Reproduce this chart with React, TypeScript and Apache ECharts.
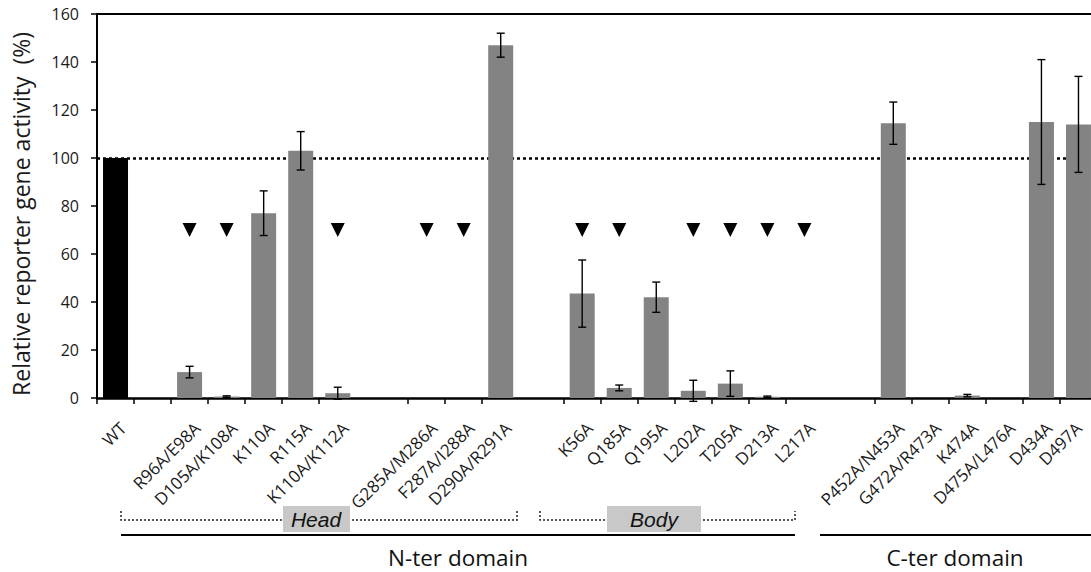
import React, { useEffect, useRef } from 'react';
import * as echarts from 'echarts';

// ---- data ----
const mutants = [
  'WT', '', 'R96A/E98A', 'D105A/K108A', 'K110A', 'R115A', 'K110A/K112A',
  'G285A/M286A', 'F287A/I288A', 'D290A/R291A',
  'K56A', 'Q185A', 'Q195A', 'L202A', 'T205A', 'D213A', 'L217A',
  'P452A/N453A', 'G472A/R473A', 'K474A', 'D475A/L476A', 'D434A', 'D497A',
];
const activity = [
  100, null, 10.8, 0.6, 77, 103, 2,
  0, 0, 147,
  43.5, 4.2, 42, 3, 6, 0.5, 0,
  114.5, 0, 1, 0, 115, 114,
];
const errorSD = [
  0, null, 2.4, 0.3, 9.3, 8, 2.5,
  0, 0, 5,
  14, 1.2, 6.3, 4.4, 5.3, 0.3, 0,
  8.8, 0, 0.5, 0, 26, 20,
];
const markedMutants = [
  'R96A/E98A', 'D105A/K108A', 'K110A/K112A', 'G285A/M286A', 'F287A/I288A',
  'K56A', 'Q185A', 'L202A', 'T205A', 'D213A', 'L217A',
];
const markerLevel = 70;
const referenceLevel = 100;
const yTicks = { min: 0, max: 160, step: 20 };
const yTitle = 'Relative reporter gene activity  (%)';

// ---- layout of the category axis (sub-slots) ----
const SUB = 5;
const segmentSizes = [7, 3, 7, 6];
const segmentGaps = [7, 6, 7];

const slotStart: number[] = [];
let pos = 0;
segmentSizes.forEach((n, s) => {
  for (let k = 0; k < n; k++) {
    slotStart.push(pos);
    pos += SUB;
  }
  if (s < segmentGaps.length) pos += segmentGaps[s];
});
const total = pos;

const FONT = "'Open Sans', 'Noto Sans', sans-serif";
const ITALIC_FONT = "'Liberation Sans', Arial, sans-serif";

export default function App() {
  const ref = useRef<HTMLDivElement>(null);

  useEffect(() => {
    document.body.style.margin = '0';
    const chart = echarts.init(ref.current!, null, { renderer: 'svg' });

    const cats: string[] = [];
    const labelAt: string[] = [];
    for (let i = 0; i < total; i++) {
      cats.push('_' + i);
      labelAt.push('');
    }
    const barData: any[] = new Array(total).fill('-');
    const errData: number[][] = [];
    const triData: number[][] = [];
    const tickSet = new Set<number>(slotStart);

    mutants.forEach((m, i) => {
      const c = slotStart[i] + 2;
      if (m) cats[c] = m;
      const labelShift = i === mutants.length - 1 ? 2 : 3;
      labelAt[slotStart[i] + labelShift] = m;
      const v = activity[i];
      if (v !== null && v !== undefined) {
        barData[c] = m === 'WT' ? { value: v, itemStyle: { color: '#000' } } : v;
        const e = errorSD[i] || 0;
        if (e > 0) errData.push([c, v - e, v + e]);
      }
      if (markedMutants.includes(m)) triData.push([c, markerLevel]);
    });

    const dotted = { stroke: '#222', lineWidth: 1.5, lineDash: [2, 2] };
    const option: any = {
      animation: false,
      grid: { left: 97, right: -6, top: 14, bottom: 174, containLabel: false, outerBoundsMode: 'none' },
      xAxis: [
        {
          type: 'category',
          data: cats,
          position: 'bottom',
          axisLine: { show: true, lineStyle: { color: '#000', width: 2.5 } },
          axisTick: {
            show: true,
            interval: (i: number) => tickSet.has(i),
            length: 6,
            lineStyle: { color: '#000', width: 1.5 },
          },
          axisLabel: {
            interval: 0,
            rotate: 45,
            margin: 27,
            formatter: (_v: string, i: number) => labelAt[i] || '',
            fontSize: 17,
            color: '#1a1a1a',
            fontFamily: FONT,
          },
          splitLine: { show: false },
        },
        {
          type: 'category',
          data: cats,
          position: 'top',
          axisLine: { show: true, lineStyle: { color: '#000', width: 2 } },
          axisTick: { show: false },
          axisLabel: { show: false },
          splitLine: { show: false },
        },
      ],
      yAxis: {
        type: 'value',
        min: yTicks.min,
        max: yTicks.max,
        interval: yTicks.step,
        axisLine: { show: true, lineStyle: { color: '#000', width: 2 } },
        axisTick: { show: true, length: 6, lineStyle: { color: '#000', width: 1.5 } },
        axisLabel: { margin: 18, fontSize: 16, color: '#1a1a1a', fontFamily: FONT },
        splitLine: { show: false },
        name: yTitle,
        nameLocation: 'middle',
        nameRotate: 90,
        nameGap: 65,
        nameTextStyle: { fontSize: 23, color: '#1a1a1a', fontFamily: FONT, padding: [0, 16, 0, 0] },
      },
      series: [
        {
          type: 'bar',
          data: barData,
          barWidth: 25,
          itemStyle: { color: '#838383' },
          z: 2,
          markLine: {
            z: 1,
            silent: true,
            symbol: ['none', 'none'],
            label: { show: false },
            lineStyle: { color: '#000', width: 2.5, type: [3, 3] },
            data: [{ yAxis: referenceLevel }],
          },
        },
        {
          type: 'custom',
          data: errData,
          encode: { x: 0, y: [1, 2] },
          z: 3,
          renderItem: (_p: any, api: any) => {
            const x = api.value(0);
            const lo = api.coord([x, api.value(1)]);
            const hi = api.coord([x, api.value(2)]);
            const w = 4;
            const st = { stroke: '#000', lineWidth: 1.4 };
            return {
              type: 'group',
              children: [
                { type: 'line', shape: { x1: lo[0], y1: lo[1], x2: hi[0], y2: hi[1] }, style: st },
                { type: 'line', shape: { x1: lo[0] - w, y1: lo[1], x2: lo[0] + w, y2: lo[1] }, style: st },
                { type: 'line', shape: { x1: hi[0] - w, y1: hi[1], x2: hi[0] + w, y2: hi[1] }, style: st },
              ],
            };
          },
        },
        {
          type: 'scatter',
          data: triData,
          symbol: 'triangle',
          symbolRotate: 180,
          symbolSize: [14, 14],
          itemStyle: { color: '#000', opacity: 1 },
          z: 4,
        },
      ],
      graphic: [
        { type: 'polyline', shape: { points: [[121, 511], [121, 520], [517, 520], [517, 511]] }, style: { ...dotted, fill: null } },
        { type: 'rect', shape: { x: 283, y: 506, width: 67, height: 26 }, style: { fill: '#c8c8c8' } },
        { type: 'text', x: 316, y: 519, style: { text: 'Head', fontSize: 21, fontStyle: 'italic', fontFamily: ITALIC_FONT, fill: '#111', align: 'center', verticalAlign: 'middle' } },
        { type: 'polyline', shape: { points: [[540, 511], [540, 520], [795, 520], [795, 511]] }, style: { ...dotted, fill: null } },
        { type: 'rect', shape: { x: 607, y: 506, width: 94, height: 26 }, style: { fill: '#c8c8c8' } },
        { type: 'text', x: 654, y: 519, style: { text: 'Body', fontSize: 21, fontStyle: 'italic', fontFamily: ITALIC_FONT, fill: '#111', align: 'center', verticalAlign: 'middle' } },
        { type: 'line', shape: { x1: 121, y1: 535, x2: 795, y2: 535 }, style: { stroke: '#000', lineWidth: 2 } },
        { type: 'line', shape: { x1: 820, y1: 535, x2: 1091, y2: 535 }, style: { stroke: '#000', lineWidth: 2 } },
        { type: 'text', x: 458, y: 557, style: { text: 'N-ter domain', fontSize: 22.5, fontFamily: FONT, fill: '#111', align: 'center', verticalAlign: 'middle' } },
        { type: 'text', x: 955, y: 557, style: { text: 'C-ter domain', fontSize: 22.5, fontFamily: FONT, fill: '#111', align: 'center', verticalAlign: 'middle' } },
      ],
    };

    chart.setOption(option);
    return () => chart.dispose();
  }, []);

  return <div ref={ref} style={{ width: 1091, height: 572 }} />;
}
